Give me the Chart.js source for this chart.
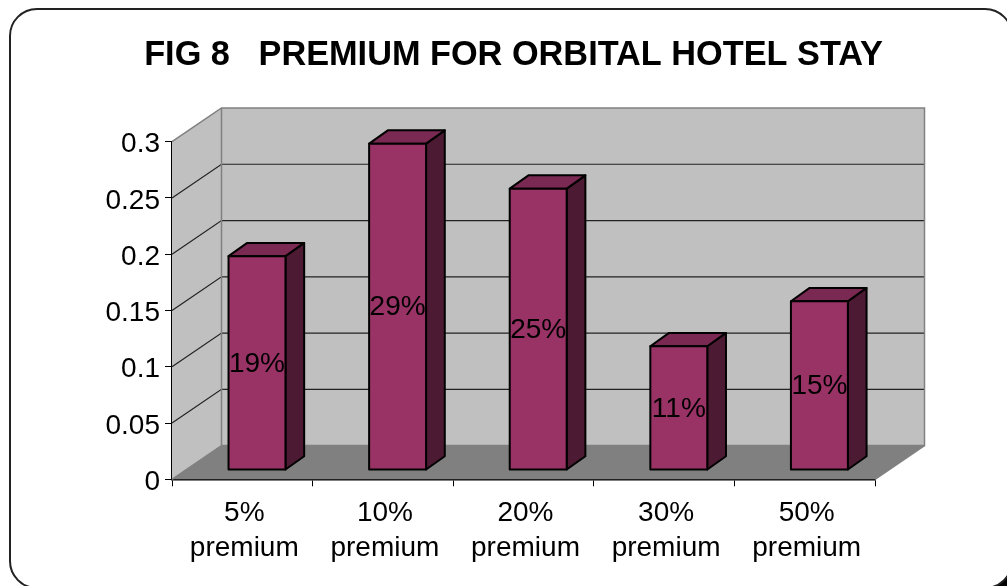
<!DOCTYPE html>
<html>
<head>
<meta charset="utf-8">
<style>html,body{margin:0;padding:0;background:#fff}canvas{display:block}</style>
<script src="https://cdn.jsdelivr.net/npm/chart.js@4"></script>
</head>
<body>
<canvas id="c" width="1007" height="586"></canvas>
<script>
const titleText = "FIG 8   PREMIUM FOR ORBITAL HOTEL STAY";
const categories = [["5%","premium"],["10%","premium"],["20%","premium"],["30%","premium"],["50%","premium"]];
const values = [0.19,0.29,0.25,0.11,0.15];
const valueLabels = ["19%","29%","25%","11%","15%"];
const yTickLabels = ["0","0.05","0.1","0.15","0.2","0.25","0.3"];

const FONT = "'Liberation Sans', Arial, sans-serif";
const WALL = {dx:49.5, dy:-33.7};
const BAR_SHIFT = {dx:14.7, dy:-9.3};
const BAR_DEPTH = {dx:18.7, dy:-13.3};

function poly(ctx, pts, fill, stroke, lw){
  ctx.beginPath();
  pts.forEach((p,i)=> i?ctx.lineTo(p[0],p[1]):ctx.moveTo(p[0],p[1]));
  ctx.closePath();
  if(fill){ctx.fillStyle=fill;ctx.fill();}
  if(stroke){ctx.strokeStyle=stroke;ctx.lineWidth=lw;ctx.lineJoin='round';ctx.stroke();}
}
function line(ctx, pts, color, lw){
  ctx.beginPath();
  pts.forEach((p,i)=> i?ctx.lineTo(p[0],p[1]):ctx.moveTo(p[0],p[1]));
  ctx.strokeStyle=color;ctx.lineWidth=lw;ctx.stroke();
}

const scene = {
  id:'scene',
  beforeDraw(chart){
    const ctx=chart.ctx;
    ctx.save();
    ctx.fillStyle='#fff';ctx.fillRect(0,0,1007,586);
    ctx.fillStyle='#000';ctx.fillRect(985,561,22,25);
    ctx.beginPath();ctx.roundRect(10,9,1002,579,27);
    ctx.fillStyle='#fff';ctx.fill();
    ctx.strokeStyle='#222';ctx.lineWidth=2;ctx.stroke();
    ctx.restore();
  },
  beforeDatasetsDraw(chart){
    const ctx=chart.ctx, a=chart.chartArea, y=chart.scales.y;
    const L=a.left,R=a.right,T=a.top,B=a.bottom,dx=WALL.dx,dy=WALL.dy;
    ctx.save();
    poly(ctx,[[L+dx,T+dy],[R+dx,T+dy],[R+dx,B+dy],[L+dx,B+dy]],'#C0C0C0');
    poly(ctx,[[L,T],[L+dx,T+dy],[L+dx,B+dy],[L,B]],'#C0C0C0');
    poly(ctx,[[L,B],[R,B],[R+dx,B+dy],[L+dx,B+dy]],'#808080');
    y.ticks.forEach(t=>{
      if(t.value<=0||t.value>=y.max-1e-9) return;
      const p=y.getPixelForValue(t.value);
      line(ctx,[[L,p],[L+dx,p+dy],[R+dx,p+dy]],'#222',1.2);
    });
    line(ctx,[[L,T],[L+dx,T+dy],[R+dx,T+dy],[R+dx,B+dy],[L+dx,B+dy]],'#808080',1.5);
    line(ctx,[[L+dx,T+dy],[L+dx,B+dy],[L,B]],'#808080',1.5);
    line(ctx,[[R,B],[R+dx,B+dy]],'#808080',1.5);
    const s=BAR_SHIFT,d=BAR_DEPTH;
    chart.getDatasetMeta(0).data.forEach(b=>{
      const w=b.width/2,l=b.x-w+s.dx,r=b.x+w+s.dx,t=b.y+s.dy,o=b.base+s.dy;
      poly(ctx,[[r,o],[r+d.dx,o+d.dy],[r+d.dx,t+d.dy],[r,t]],'#4D1A33','#000',2);
      poly(ctx,[[l,t],[l+d.dx,t+d.dy],[r+d.dx,t+d.dy],[r,t]],'#7A2952','#000',2);
    });
    ctx.restore();
    ctx.save();
    ctx.translate(s.dx,s.dy);
  },
  afterDatasetsDraw(chart){
    const ctx=chart.ctx;
    ctx.restore();
    ctx.save();
    const s=BAR_SHIFT;
    chart.getDatasetMeta(0).data.forEach(b=>{
      const w=b.width/2;
      ctx.strokeStyle='#000';ctx.lineWidth=2;ctx.lineJoin='round';
      ctx.strokeRect(b.x-w+s.dx,b.y+s.dy,b.width,b.base-b.y);
    });
    ctx.fillStyle='#000';ctx.font='28px '+FONT;
    ctx.textAlign='center';ctx.textBaseline='middle';
    chart.getDatasetMeta(0).data.forEach((b,i)=>{
      ctx.fillText(valueLabels[i],b.x+s.dx,(b.y+b.base)/2+s.dy+1);
    });
    ctx.restore();
  }
};

new Chart(document.getElementById('c'),{
  type:'bar',
  data:{labels:categories,datasets:[{
    data:values,
    backgroundColor:'#993366',
    borderWidth:0,
    barPercentage:0.405,
    categoryPercentage:1
  }]},
  plugins:[scene],
  options:{
    responsive:false,
    animation:false,
    layout:{padding:{left:20,right:0,top:0,bottom:0}},
    plugins:{
      legend:{display:false},
      tooltip:{enabled:false},
      title:{display:true,text:titleText,color:'#000',
        font:{family:FONT,size:34.3,weight:'bold',lineHeight:1.2},
        padding:{top:35.4,bottom:65.14}}
    },
    scales:{
      x:{
        afterFit(s){s.height=106.7;},
        grid:{drawOnChartArea:false,drawTicks:true,tickLength:7,color:'#000',lineWidth:1},
        border:{display:true,color:'#000',width:1.5},
        ticks:{color:'#000',font:{family:FONT,size:28,lineHeight:1.25},padding:9,labelOffset:2,maxRotation:0,autoSkip:false}
      },
      y:{
        min:0,max:0.3,
        afterFit(s){s.width=152;},
        grid:{drawOnChartArea:false,drawTicks:true,tickLength:7,color:'#000',lineWidth:1},
        border:{display:true,color:'#000',width:1.5},
        ticks:{color:'#000',stepSize:0.05,font:{family:FONT,size:28},padding:5,labelOffset:3,
          callback(v,i){return yTickLabels[i];}}
      },
      spare:{
        position:'right',min:0,max:1,
        afterFit(s){s.width=132;},
        grid:{display:false,drawOnChartArea:false},
        border:{display:false},
        ticks:{display:false}
      }
    }
  }
});
</script>
</body>
</html>
